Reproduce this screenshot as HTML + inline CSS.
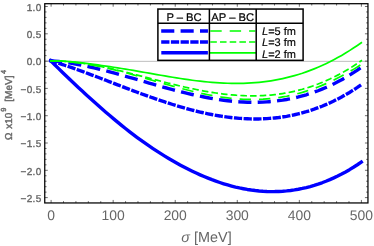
<!DOCTYPE html>
<html><head><meta charset="utf-8"><title>plot</title>
<style>html,body{margin:0;padding:0;background:#fff;overflow:hidden}body{width:374px;height:246px;position:relative;font-family:"Liberation Sans",sans-serif}</style></head>
<body>
<svg width="374" height="246" viewBox="0 0 374 246" style="position:absolute;left:0;top:0;will-change:transform">
<rect width="374" height="246" fill="#fff"/>
<line x1="44.75" x2="367.95" y1="61.35" y2="61.35" stroke="#bcbcbc" stroke-width="0.95"/>
<path d="M50.80,60.74 L54.73,64.70 L58.66,68.59 L62.59,72.44 L66.52,76.25 L70.45,80.02 L74.38,83.75 L78.31,87.45 L82.24,91.11 L86.17,94.72 L90.10,98.30 L94.03,101.83 L97.96,105.32 L101.89,108.77 L105.83,112.18 L109.76,115.54 L113.69,118.86 L117.62,122.12 L121.55,125.33 L125.48,128.49 L129.41,131.58 L133.34,134.61 L137.27,137.56 L141.20,140.44 L145.13,143.24 L149.06,145.97 L152.99,148.62 L156.92,151.19 L160.85,153.69 L164.78,156.12 L168.71,158.49 L172.64,160.78 L176.57,163.00 L180.50,165.16 L184.43,167.25 L188.36,169.26 L192.29,171.20 L196.22,173.06 L200.15,174.84 L204.08,176.54 L208.02,178.16 L211.95,179.70 L215.88,181.14 L219.81,182.50 L223.74,183.77 L227.67,184.95 L231.60,186.04 L235.53,187.04 L239.46,187.94 L243.39,188.74 L247.32,189.45 L251.25,190.05 L255.18,190.56 L259.11,190.97 L263.04,191.28 L266.97,191.48 L270.90,191.58 L274.83,191.57 L278.76,191.45 L282.69,191.23 L286.62,190.90 L290.55,190.45 L294.48,189.90 L298.41,189.23 L302.34,188.44 L306.27,187.54 L310.21,186.53 L314.14,185.39 L318.07,184.14 L322.00,182.77 L325.93,181.27 L329.86,179.65 L333.79,177.91 L337.72,176.04 L341.65,174.04 L345.58,171.92 L349.51,169.67 L353.44,167.28 L357.37,164.75 L361.30,162.06" fill="none" stroke="#0000ff" stroke-width="3.4" stroke-linejoin="round" stroke-linecap="square"/>
<path d="M50.80,60.74 L54.73,62.01 L58.66,63.27 L62.59,64.56 L66.52,65.88 L70.45,67.22 L74.38,68.60 L78.31,70.00 L82.24,71.42 L86.17,72.86 L90.10,74.32 L94.03,75.80 L97.96,77.28 L101.89,78.78 L105.83,80.28 L109.76,81.79 L113.69,83.30 L117.62,84.81 L121.55,86.32 L125.48,87.82 L129.41,89.31 L133.34,90.79 L137.27,92.26 L141.20,93.72 L145.13,95.15 L149.06,96.57 L152.99,97.96 L156.92,99.33 L160.85,100.67 L164.78,101.98 L168.71,103.26 L172.64,104.50 L176.57,105.71 L180.50,106.88 L184.43,108.01 L188.36,109.10 L192.29,110.14 L196.22,111.13 L200.15,112.08 L204.08,112.97 L208.02,113.81 L211.95,114.59 L215.88,115.32 L219.81,115.98 L223.74,116.59 L227.67,117.13 L231.60,117.60 L235.53,118.01 L239.46,118.35 L243.39,118.62 L247.32,118.81 L251.25,118.93 L255.18,118.97 L259.11,118.93 L263.04,118.81 L266.97,118.61 L270.90,118.33 L274.83,117.96 L278.76,117.50 L282.69,116.95 L286.62,116.31 L290.55,115.58 L294.48,114.76 L298.41,113.83 L302.34,112.82 L306.27,111.70 L310.21,110.48 L314.14,109.16 L318.07,107.74 L322.00,106.21 L325.93,104.57 L329.86,102.83 L333.79,100.98 L337.72,99.01 L341.65,96.93 L345.58,94.74 L349.51,92.43 L353.44,90.00 L357.37,87.44 L361.30,84.72" fill="none" stroke="#0000ff" stroke-width="3.4" stroke-linejoin="round" stroke-dasharray="4.85 4.85" stroke-linecap="square"/>
<path d="M50.80,60.74 L54.73,61.14 L58.66,61.55 L62.59,62.03 L66.52,62.57 L70.45,63.17 L74.38,63.83 L78.31,64.55 L82.24,65.31 L86.17,66.13 L90.10,66.99 L94.03,67.89 L97.96,68.83 L101.89,69.80 L105.83,70.81 L109.76,71.84 L113.69,72.90 L117.62,73.99 L121.55,75.09 L125.48,76.20 L129.41,77.33 L133.34,78.46 L137.27,79.61 L141.20,80.75 L145.13,81.90 L149.06,83.04 L152.99,84.17 L156.92,85.30 L160.85,86.41 L164.78,87.51 L168.71,88.59 L172.64,89.65 L176.57,90.68 L180.50,91.69 L184.43,92.67 L188.36,93.61 L192.29,94.53 L196.22,95.40 L200.15,96.23 L204.08,97.03 L208.02,97.77 L211.95,98.47 L215.88,99.12 L219.81,99.71 L223.74,100.25 L227.67,100.73 L231.60,101.15 L235.53,101.51 L239.46,101.80 L243.39,102.03 L247.32,102.19 L251.25,102.27 L255.18,102.28 L259.11,102.22 L263.04,102.08 L266.97,101.85 L270.90,101.55 L274.83,101.16 L278.76,100.68 L282.69,100.12 L286.62,99.46 L290.55,98.71 L294.48,97.87 L298.41,96.93 L302.34,95.89 L306.27,94.76 L310.21,93.52 L314.14,92.18 L318.07,90.73 L322.00,89.17 L325.93,87.51 L329.86,85.74 L333.79,83.85 L337.72,81.85 L341.65,79.74 L345.58,77.51 L349.51,75.15 L353.44,72.68 L357.37,70.07 L361.30,67.29" fill="none" stroke="#0000ff" stroke-width="3.4" stroke-linejoin="round" stroke-dasharray="9.7 9.7" stroke-linecap="square"/>
<path d="M50.80,60.81 L54.73,60.87 L58.66,60.99 L62.59,61.17 L66.52,61.40 L70.45,61.70 L74.38,62.04 L78.31,62.43 L82.24,62.87 L86.17,63.34 L90.10,63.84 L94.03,64.36 L97.96,64.91 L101.89,65.47 L105.83,66.05 L109.76,66.64 L113.69,67.25 L117.62,67.86 L121.55,68.49 L125.48,69.12 L129.41,69.77 L133.34,70.43 L137.27,71.11 L141.20,71.79 L145.13,72.48 L149.06,73.18 L152.99,73.87 L156.92,74.57 L160.85,75.26 L164.78,75.94 L168.71,76.62 L172.64,77.27 L176.57,77.91 L180.50,78.53 L184.43,79.12 L188.36,79.69 L192.29,80.22 L196.22,80.72 L200.15,81.19 L204.08,81.62 L208.02,82.01 L211.95,82.36 L215.88,82.66 L219.81,82.91 L223.74,83.11 L227.67,83.26 L231.60,83.36 L235.53,83.40 L239.46,83.37 L243.39,83.29 L247.32,83.14 L251.25,82.93 L255.18,82.65 L259.11,82.29 L263.04,81.87 L266.97,81.37 L270.90,80.79 L274.83,80.13 L278.76,79.40 L282.69,78.58 L286.62,77.68 L290.55,76.69 L294.48,75.61 L298.41,74.45 L302.34,73.20 L306.27,71.85 L310.21,70.41 L314.14,68.88 L318.07,67.25 L322.00,65.52 L325.93,63.69 L329.86,61.77 L333.79,59.74 L337.72,57.62 L341.65,55.39 L345.58,53.06 L349.51,50.62 L353.44,48.08 L357.37,45.44 L361.30,42.69" fill="none" stroke="#00ff00" stroke-width="1.7" stroke-linejoin="round" stroke-linecap="square"/>
<path d="M50.80,60.74 L54.73,60.84 L58.66,60.99 L62.59,61.20 L66.52,61.49 L70.45,61.84 L74.38,62.26 L78.31,62.74 L82.24,63.28 L86.17,63.87 L90.10,64.51 L94.03,65.21 L97.96,65.94 L101.89,66.72 L105.83,67.54 L109.76,68.39 L113.69,69.28 L117.62,70.19 L121.55,71.13 L125.48,72.09 L129.41,73.07 L133.34,74.07 L137.27,75.08 L141.20,76.09 L145.13,77.12 L149.06,78.14 L152.99,79.17 L156.92,80.19 L160.85,81.20 L164.78,82.20 L168.71,83.20 L172.64,84.17 L176.57,85.13 L180.50,86.06 L184.43,86.97 L188.36,87.85 L192.29,88.70 L196.22,89.52 L200.15,90.30 L204.08,91.04 L208.02,91.74 L211.95,92.39 L215.88,93.00 L219.81,93.55 L223.74,94.05 L227.67,94.50 L231.60,94.89 L235.53,95.22 L239.46,95.48 L243.39,95.68 L247.32,95.81 L251.25,95.87 L255.18,95.86 L259.11,95.77 L263.04,95.60 L266.97,95.36 L270.90,95.03 L274.83,94.62 L278.76,94.13 L282.69,93.54 L286.62,92.87 L290.55,92.10 L294.48,91.24 L298.41,90.29 L302.34,89.24 L306.27,88.09 L310.21,86.83 L314.14,85.48 L318.07,84.02 L322.00,82.46 L325.93,80.79 L329.86,79.02 L333.79,77.13 L337.72,75.13 L341.65,73.02 L345.58,70.80 L349.51,68.46 L353.44,66.00 L357.37,63.43 L361.30,60.70" fill="none" stroke="#00ff00" stroke-width="1.7" stroke-linejoin="round" stroke-dasharray="4.85 4.85" stroke-linecap="square"/>
<path d="M50.80,60.74 L54.73,60.88 L58.66,61.04 L62.59,61.26 L66.52,61.55 L70.45,61.91 L74.38,62.33 L78.31,62.82 L82.24,63.37 L86.17,63.98 L90.10,64.64 L94.03,65.36 L97.96,66.14 L101.89,66.95 L105.83,67.82 L109.76,68.73 L113.69,69.67 L117.62,70.65 L121.55,71.67 L125.48,72.71 L129.41,73.78 L133.34,74.87 L137.27,75.97 L141.20,77.09 L145.13,78.22 L149.06,79.36 L152.99,80.50 L156.92,81.64 L160.85,82.78 L164.78,83.91 L168.71,85.03 L172.64,86.13 L176.57,87.21 L180.50,88.27 L184.43,89.30 L188.36,90.30 L192.29,91.27 L196.22,92.20 L200.15,93.09 L204.08,93.94 L208.02,94.74 L211.95,95.48 L215.88,96.18 L219.81,96.81 L223.74,97.39 L227.67,97.90 L231.60,98.35 L235.53,98.72 L239.46,99.02 L243.39,99.25 L247.32,99.41 L251.25,99.48 L255.18,99.47 L259.11,99.38 L263.04,99.20 L266.97,98.93 L270.90,98.58 L274.83,98.13 L278.76,97.60 L282.69,96.96 L286.62,96.24 L290.55,95.42 L294.48,94.50 L298.41,93.49 L302.34,92.38 L306.27,91.17 L310.21,89.87 L314.14,88.47 L318.07,86.97 L322.00,85.38 L325.93,83.70 L329.86,81.92 L333.79,80.05 L337.72,78.09 L341.65,76.04 L345.58,73.90 L349.51,71.68 L353.44,69.38 L357.37,66.98 L361.30,64.46" fill="none" stroke="#00ff00" stroke-width="1.7" stroke-linejoin="round" stroke-dasharray="9.7 9.7" stroke-linecap="square"/>
<path d="M44.75,197.60h3.0M367.95,197.60h-3.0M44.75,192.14h1.8M367.95,192.14h-1.8M44.75,186.68h1.8M367.95,186.68h-1.8M44.75,181.22h1.8M367.95,181.22h-1.8M44.75,175.76h1.8M367.95,175.76h-1.8M44.75,170.30h3.0M367.95,170.30h-3.0M44.75,164.84h1.8M367.95,164.84h-1.8M44.75,159.38h1.8M367.95,159.38h-1.8M44.75,153.92h1.8M367.95,153.92h-1.8M44.75,148.46h1.8M367.95,148.46h-1.8M44.75,143.00h3.0M367.95,143.00h-3.0M44.75,137.54h1.8M367.95,137.54h-1.8M44.75,132.08h1.8M367.95,132.08h-1.8M44.75,126.62h1.8M367.95,126.62h-1.8M44.75,121.16h1.8M367.95,121.16h-1.8M44.75,115.70h3.0M367.95,115.70h-3.0M44.75,110.24h1.8M367.95,110.24h-1.8M44.75,104.78h1.8M367.95,104.78h-1.8M44.75,99.32h1.8M367.95,99.32h-1.8M44.75,93.86h1.8M367.95,93.86h-1.8M44.75,88.40h3.0M367.95,88.40h-3.0M44.75,82.94h1.8M367.95,82.94h-1.8M44.75,77.48h1.8M367.95,77.48h-1.8M44.75,72.02h1.8M367.95,72.02h-1.8M44.75,66.56h1.8M367.95,66.56h-1.8M44.75,61.10h3.0M367.95,61.10h-3.0M44.75,55.64h1.8M367.95,55.64h-1.8M44.75,50.18h1.8M367.95,50.18h-1.8M44.75,44.72h1.8M367.95,44.72h-1.8M44.75,39.26h1.8M367.95,39.26h-1.8M44.75,33.80h3.0M367.95,33.80h-3.0M44.75,28.34h1.8M367.95,28.34h-1.8M44.75,22.88h1.8M367.95,22.88h-1.8M44.75,17.42h1.8M367.95,17.42h-1.8M44.75,11.96h1.8M367.95,11.96h-1.8M44.75,6.50h3.0M367.95,6.50h-3.0M51.10,202.95v-3.0M51.10,3.7v3.0M63.51,202.95v-1.8M63.51,3.7v1.8M75.92,202.95v-1.8M75.92,3.7v1.8M88.34,202.95v-1.8M88.34,3.7v1.8M100.75,202.95v-1.8M100.75,3.7v1.8M113.16,202.95v-3.0M113.16,3.7v3.0M125.57,202.95v-1.8M125.57,3.7v1.8M137.98,202.95v-1.8M137.98,3.7v1.8M150.40,202.95v-1.8M150.40,3.7v1.8M162.81,202.95v-1.8M162.81,3.7v1.8M175.22,202.95v-3.0M175.22,3.7v3.0M187.63,202.95v-1.8M187.63,3.7v1.8M200.04,202.95v-1.8M200.04,3.7v1.8M212.46,202.95v-1.8M212.46,3.7v1.8M224.87,202.95v-1.8M224.87,3.7v1.8M237.28,202.95v-3.0M237.28,3.7v3.0M249.69,202.95v-1.8M249.69,3.7v1.8M262.10,202.95v-1.8M262.10,3.7v1.8M274.52,202.95v-1.8M274.52,3.7v1.8M286.93,202.95v-1.8M286.93,3.7v1.8M299.34,202.95v-3.0M299.34,3.7v3.0M311.75,202.95v-1.8M311.75,3.7v1.8M324.16,202.95v-1.8M324.16,3.7v1.8M336.58,202.95v-1.8M336.58,3.7v1.8M348.99,202.95v-1.8M348.99,3.7v1.8M361.40,202.95v-3.0M361.40,3.7v3.0" stroke="#3c3c3c" stroke-width="0.75" fill="none"/>
<rect x="44.75" y="3.7" width="323.2" height="199.25" fill="none" stroke="#000" stroke-width="1.25"/>
<rect x="157.9" y="9.05" width="145.20000000000002" height="51.3" fill="#fff"/>
<line x1="162.9" x2="206.25" y1="31.0" y2="31.0" stroke="#0000ff" stroke-width="3.4" stroke-dasharray="9.7 9.7" stroke-linecap="square"/>
<line x1="211.15" x2="254.5" y1="31.0" y2="31.0" stroke="#00ff00" stroke-width="1.7" stroke-dasharray="9.7 9.7" stroke-linecap="square"/>
<line x1="162.9" x2="206.25" y1="42.0" y2="42.0" stroke="#0000ff" stroke-width="3.4" stroke-dasharray="4.85 4.85" stroke-linecap="square"/>
<line x1="211.15" x2="254.5" y1="42.0" y2="42.0" stroke="#00ff00" stroke-width="1.7" stroke-dasharray="4.85 4.85" stroke-linecap="square"/>
<line x1="161.3" x2="207.9" y1="52.8" y2="52.8" stroke="#0000ff" stroke-width="3.4"/>
<line x1="210" x2="256" y1="52.8" y2="52.8" stroke="#00ff00" stroke-width="1.7"/>
<rect x="157.9" y="9.05" width="145.20000000000002" height="51.3" fill="none" stroke="#000" stroke-width="1.5"/>
<path d="M157.9,23.25H303.1M209.4,9.05V60.35M256.2,9.05V60.35" stroke="#000" stroke-width="1.5" fill="none"/>
<text x="184.0" y="20.9" text-anchor="middle" font-family="Liberation Sans, sans-serif" text-rendering="geometricPrecision" font-size="11.2" fill="#000" stroke="#000" stroke-width="0.2">P – BC</text>
<text x="232.7" y="20.9" text-anchor="middle" font-family="Liberation Sans, sans-serif" text-rendering="geometricPrecision" font-size="11.2" fill="#000" stroke="#000" stroke-width="0.2">AP – BC</text>
<text x="262" y="34.7" font-family="Liberation Sans, sans-serif" text-rendering="geometricPrecision" font-size="11" fill="#000" stroke="#000" stroke-width="0.15"><tspan font-style="italic">L</tspan>=5 fm</text>
<text x="262" y="46.2" font-family="Liberation Sans, sans-serif" text-rendering="geometricPrecision" font-size="11" fill="#000" stroke="#000" stroke-width="0.15"><tspan font-style="italic">L</tspan>=3 fm</text>
<text x="262" y="57.5" font-family="Liberation Sans, sans-serif" text-rendering="geometricPrecision" font-size="11" fill="#000" stroke="#000" stroke-width="0.15"><tspan font-style="italic">L</tspan>=2 fm</text>
<text x="41.5" y="10.70" text-anchor="end" font-family="Liberation Sans, sans-serif" text-rendering="geometricPrecision" font-size="10" letter-spacing="0.3" fill="#666" stroke="#666" stroke-width="0.35">1.0</text>
<text x="41.5" y="38.00" text-anchor="end" font-family="Liberation Sans, sans-serif" text-rendering="geometricPrecision" font-size="10" letter-spacing="0.3" fill="#666" stroke="#666" stroke-width="0.35">0.5</text>
<text x="41.5" y="65.30" text-anchor="end" font-family="Liberation Sans, sans-serif" text-rendering="geometricPrecision" font-size="10" letter-spacing="0.3" fill="#666" stroke="#666" stroke-width="0.35">0.0</text>
<text x="41.5" y="92.60" text-anchor="end" font-family="Liberation Sans, sans-serif" text-rendering="geometricPrecision" font-size="10" letter-spacing="0.3" fill="#666" stroke="#666" stroke-width="0.35">−0.5</text>
<text x="41.5" y="119.90" text-anchor="end" font-family="Liberation Sans, sans-serif" text-rendering="geometricPrecision" font-size="10" letter-spacing="0.3" fill="#666" stroke="#666" stroke-width="0.35">−1.0</text>
<text x="41.5" y="147.20" text-anchor="end" font-family="Liberation Sans, sans-serif" text-rendering="geometricPrecision" font-size="10" letter-spacing="0.3" fill="#666" stroke="#666" stroke-width="0.35">−1.5</text>
<text x="41.5" y="174.50" text-anchor="end" font-family="Liberation Sans, sans-serif" text-rendering="geometricPrecision" font-size="10" letter-spacing="0.3" fill="#666" stroke="#666" stroke-width="0.35">−2.0</text>
<text x="41.5" y="201.80" text-anchor="end" font-family="Liberation Sans, sans-serif" text-rendering="geometricPrecision" font-size="10" letter-spacing="0.3" fill="#666" stroke="#666" stroke-width="0.35">−2.5</text>
<text x="51.10" y="219.9" text-anchor="middle" font-family="Liberation Sans, sans-serif" text-rendering="geometricPrecision" font-size="13.9" fill="#666">0</text>
<text x="113.16" y="219.9" text-anchor="middle" font-family="Liberation Sans, sans-serif" text-rendering="geometricPrecision" font-size="13.9" fill="#666">100</text>
<text x="175.22" y="219.9" text-anchor="middle" font-family="Liberation Sans, sans-serif" text-rendering="geometricPrecision" font-size="13.9" fill="#666">200</text>
<text x="237.28" y="219.9" text-anchor="middle" font-family="Liberation Sans, sans-serif" text-rendering="geometricPrecision" font-size="13.9" fill="#666">300</text>
<text x="299.34" y="219.9" text-anchor="middle" font-family="Liberation Sans, sans-serif" text-rendering="geometricPrecision" font-size="13.9" fill="#666">400</text>
<text x="361.40" y="219.9" text-anchor="middle" font-family="Liberation Sans, sans-serif" text-rendering="geometricPrecision" font-size="13.9" fill="#666">500</text>
<text x="206.5" y="242.1" text-anchor="middle" font-family="Liberation Sans, sans-serif" text-rendering="geometricPrecision" font-size="14.4" fill="#666"><tspan font-style="italic">σ</tspan> [MeV]</text>
<text transform="translate(12,139.9) rotate(-90)" font-family="Liberation Sans, sans-serif" text-rendering="geometricPrecision" font-size="10" fill="#666" stroke="#666" stroke-width="0.4">Ω</text>
<text transform="translate(12,128.8) rotate(-90)" font-family="Liberation Sans, sans-serif" text-rendering="geometricPrecision" font-size="10" fill="#666" stroke="#666" stroke-width="0.4">x10</text>
<text transform="translate(6.4,111.8) rotate(-90)" font-family="Liberation Sans, sans-serif" text-rendering="geometricPrecision" font-size="7.4" fill="#666" stroke="#666" stroke-width="0.4">9</text>
<text transform="translate(12,101.7) rotate(-90)" font-family="Liberation Sans, sans-serif" text-rendering="geometricPrecision" font-size="10" fill="#666" stroke="#666" stroke-width="0.4">[MeV]</text>
<text transform="translate(6.4,73.9) rotate(-90)" font-family="Liberation Sans, sans-serif" text-rendering="geometricPrecision" font-size="7.4" fill="#666" stroke="#666" stroke-width="0.4">4</text>
</svg>
</body></html>
